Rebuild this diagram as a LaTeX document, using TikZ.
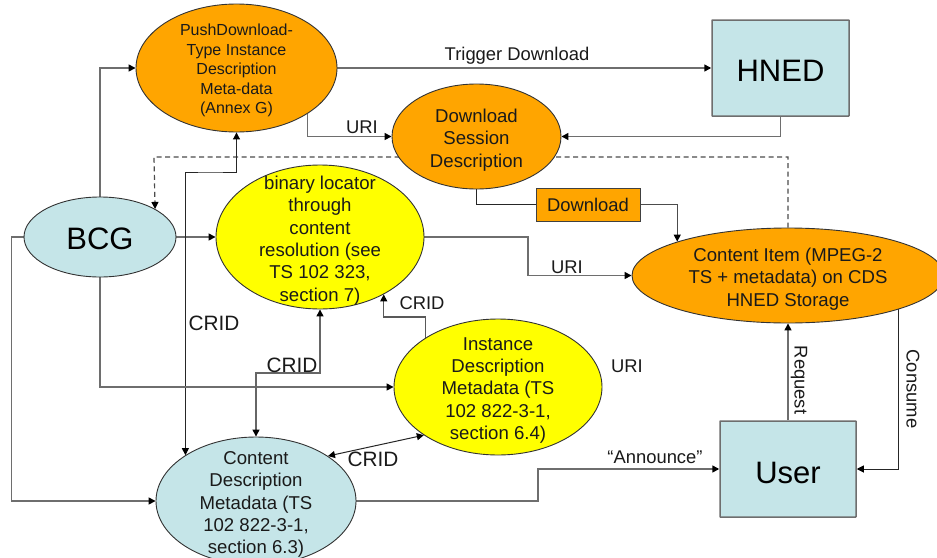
\documentclass[tikz,border=0pt]{standalone}
\usepackage{fontspec}
\setmainfont{Liberation Sans}
\usetikzlibrary{arrows.meta,backgrounds,shapes.geometric}
\definecolor{cOrange}{HTML}{FFA500}
\definecolor{cYellow}{HTML}{FFFF00}
\definecolor{cBlue}{HTML}{C5E5E8}
\definecolor{cLine}{HTML}{6E6E6E}
\definecolor{cText}{HTML}{1A1A1A}
\tikzset{
  ell/.style={ellipse,draw=black!80,line width=0.9pt,inner sep=0pt},
  rct/.style={rectangle,draw=cLine,line width=1.5pt,fill=cBlue,inner sep=0pt,rounded corners=0.5pt},
  big/.style={text=black,font=\fontsize{31}{36}\selectfont,inner sep=0pt},
  ltext/.style={align=center,text=cText,font=\fontsize{18.6}{22.4}\selectfont,inner sep=0pt,yshift=-3.5pt},
  lab/.style={text=cText,font=\fontsize{18.4}{22}\selectfont,inner sep=0pt},
  crid/.style={text=cText,font=\fontsize{20.8}{24}\selectfont,inner sep=0pt},
  conn/.style={draw=cLine,line width=1.5pt},
  thin conn/.style={draw=black!85,line width=1pt},
  tip/.style={-{Triangle[length=7pt,width=7pt,black]}},
  tips/.style={{Triangle[length=7pt,width=7pt,black]}-{Triangle[length=7pt,width=7pt,black]}},
}
\begin{document}
\begin{tikzpicture}[x=1pt,y=-1pt]
\clip (0,0) rectangle (937,557);
% nodes
\node[ell,fill=cOrange,minimum width=201pt,minimum height=128pt,
  label={[ltext,yshift=1pt,font=\fontsize{16}{19.6}\selectfont]center:{PushDownload-\\Type Instance\\Description\\Meta-data\\(Annex G)}}] (push) at (236.5,68) {};
\node[ell,fill=cOrange,minimum width=169pt,minimum height=105pt,
  label={[ltext]center:{Download\\Session\\Description}}] (dsd) at (476.5,136.5) {};
\node[ell,fill=cBlue,minimum width=152pt,minimum height=80pt,
  label={[big,yshift=-2pt]center:BCG}] (bcg) at (100,237) {};
\node[ell,fill=cYellow,minimum width=208pt,minimum height=144pt,
  label={[ltext]center:{binary locator\\through\\content\\resolution (see\\TS 102 323,\\section 7)}}] (bin) at (320,237) {};
\node[ell,fill=cOrange,minimum width=312pt,minimum height=95pt,
  label={[ltext]center:{Content Item (MPEG-2\\TS + metadata) on CDS\\HNED Storage}}] (item) at (788,275.5) {};
\node[ell,fill=cYellow,minimum width=208pt,minimum height=136pt,
  label={[ltext]center:{Instance\\Description\\Metadata (TS\\102 822-3-1,\\section 6.4)}}] (inst) at (498,387) {};
\node[ell,fill=cBlue,minimum width=200pt,minimum height=128pt,
  label={[ltext]center:{Content\\Description\\Metadata (TS\\102 822-3-1,\\section 6.3)}}] (cdm) at (256,501) {};
\node[rct,minimum width=137pt,minimum height=96pt,
  label={[big,yshift=-3pt]center:HNED}] (hned) at (780.5,68) {};
\node[rct,minimum width=136pt,minimum height=96pt,
  label={[big,yshift=-3.5pt]center:User}] (user) at (788,469) {};
\node[rectangle,draw=black!75,line width=1pt,fill=cOrange,minimum width=104pt,minimum height=33pt,inner sep=0pt,lab] (dl) at (588,204.5) {Download};
% waypoints
\coordinate (dashtop) at (154,157);
\coordinate (k1) at (400,317);
\coordinate (k2) at (210,172);
\coordinate (k3) at (290,373);
\coordinate (k4) at (528,256);
\coordinate (k5) at (538,485);
% connectors (under the shapes)
\begin{scope}[on background layer]
\fill[white] (0,0) rectangle (937,557);
\draw[conn,tip] (bcg.north) |- (push.west);
\draw[conn,tip] (push.east) -- (hned.west);
\draw[conn,tip] (push.-33.5) |- (dsd.west);
\draw[conn,tip] (hned.south) |- (dsd.east);
\draw[draw=black!70,line width=1.2pt,dash pattern=on 5pt off 3.5pt,-{Triangle[length=7pt,width=7pt,black]}] (item.north) |- (dashtop) -- (bcg.27.4);
\draw[conn,tip] (bcg.east) -- (bin.west);
\draw[conn,tip] (bin.east) -| (k4) |- (item.west);
\draw[thin conn] (dsd.south) |- (dl.west);
\draw[conn,draw=black!70,line width=1.2pt,tip] (dl.east) -| (item.163);
\draw[thin conn,tips] (push.south) |- (k2) -| (cdm.147.6);
\draw[conn,tip] (bcg.south) |- (inst.west);
\draw[conn,tip] (bcg.west) -- ++(-12,0) |- (cdm.west);
\draw[conn,line width=1.3pt,draw=black!60,tips] (bin.south) |- (k3) -| (cdm.north);
\draw[conn,line width=1.3pt,draw=black!65,tip] (inst.146.5) |- (k1) -| (bin.-42.1);
\draw[thin conn,tips] (cdm.32.6) -- (inst.213);
\draw[conn,tip] (cdm.east) -| (k5) |- (user.west);
\draw[conn,tip] (user.north) -- (item.south);
\draw[thin conn,tip] (item.-17.45) |- (user.east);
\end{scope}
% labels
\node[lab] (t1) at (517,55.5) {Trigger Download};
\node[lab] (t2) at (362,127) {URI};
\node[lab] (t3) at (567,267) {URI};
\node[lab] (t4) at (627,366) {URI};
\node[crid] (t5) at (214,323) {CRID};
\node[crid] (t6) at (292,365) {CRID};
\node[lab] (t7) at (422,303) {CRID};
\node[crid] (t8) at (373,459) {CRID};
\node[lab] (t9) at (655,457) {“Announce”};
\node[lab,rotate=-90] (t10) at (799,380) {Request};
\node[lab,rotate=-90] (t11) at (913,389) {Consume};
\end{tikzpicture}
\end{document}
